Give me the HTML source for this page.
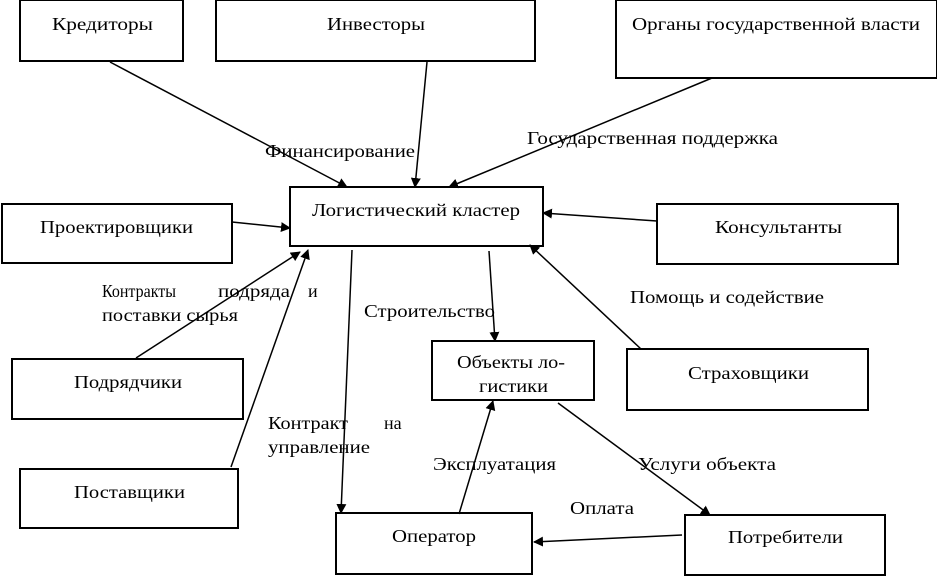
<!DOCTYPE html>
<html><head><meta charset="utf-8"><style>
body{margin:0;background:#fff;}
svg{display:block;font-family:"Liberation Serif",serif;font-size:18px;}
rect{fill:#fff;stroke:#000;stroke-width:2;}
line{stroke:#000;stroke-width:1.5;}
</style></head><body>
<svg width="937" height="576" viewBox="0 0 937 576">
<defs><marker id="a" markerWidth="10" markerHeight="10" refX="9" refY="5" orient="auto" markerUnits="userSpaceOnUse"><path d="M0,0 L10,5 L0,10 z" fill="#000"/></marker></defs>
<rect x="20" y="0" width="163" height="61"/>
<rect x="216" y="0" width="319" height="61"/>
<rect x="616" y="0" width="321" height="78"/>
<rect x="290" y="187" width="253" height="59"/>
<rect x="2" y="204" width="230" height="59"/>
<rect x="657" y="204" width="241" height="60"/>
<rect x="12" y="359" width="231" height="60"/>
<rect x="432" y="341" width="162" height="59"/>
<rect x="627" y="349" width="241" height="61"/>
<rect x="20" y="469" width="218" height="59"/>
<rect x="336" y="513" width="196" height="61"/>
<rect x="685" y="515" width="200" height="60"/>
<g lengthAdjust="spacingAndGlyphs">
<text x="52" y="30" textLength="101" lengthAdjust="spacingAndGlyphs">Кредиторы</text>
<text x="327" y="30" textLength="98" lengthAdjust="spacingAndGlyphs">Инвесторы</text>
<text x="632" y="30" textLength="288" lengthAdjust="spacingAndGlyphs">Органы государственной власти</text>
<text x="312" y="216" textLength="208" lengthAdjust="spacingAndGlyphs">Логистический кластер</text>
<text x="40" y="233" textLength="153" lengthAdjust="spacingAndGlyphs">Проектировщики</text>
<text x="715" y="233" textLength="127" lengthAdjust="spacingAndGlyphs">Консультанты</text>
<text x="74" y="388" textLength="108" lengthAdjust="spacingAndGlyphs">Подрядчики</text>
<text x="457" y="368" textLength="108" lengthAdjust="spacingAndGlyphs">Объекты ло-</text>
<text x="479" y="392" textLength="69" lengthAdjust="spacingAndGlyphs">гистики</text>
<text x="688" y="379" textLength="121" lengthAdjust="spacingAndGlyphs">Страховщики</text>
<text x="74" y="498" textLength="111" lengthAdjust="spacingAndGlyphs">Поставщики</text>
<text x="392" y="542" textLength="84" lengthAdjust="spacingAndGlyphs">Оператор</text>
<text x="728" y="543" textLength="115" lengthAdjust="spacingAndGlyphs">Потребители</text>
<text x="265" y="157" textLength="150" lengthAdjust="spacingAndGlyphs">Финансирование</text>
<text x="527" y="144" textLength="251" lengthAdjust="spacingAndGlyphs">Государственная поддержка</text>
<text x="102" y="297" textLength="74" lengthAdjust="spacingAndGlyphs">Контракты</text><text x="218" y="297" textLength="72" lengthAdjust="spacingAndGlyphs">подряда</text><text x="308" y="297">и</text>
<text x="102" y="321" textLength="136" lengthAdjust="spacingAndGlyphs">поставки сырья</text>
<text x="364" y="317" textLength="131" lengthAdjust="spacingAndGlyphs">Строительство</text>
<text x="630" y="303" textLength="194" lengthAdjust="spacingAndGlyphs">Помощь и содействие</text>
<text x="268" y="429" textLength="80" lengthAdjust="spacingAndGlyphs">Контракт</text><text x="384" y="429">на</text>
<text x="268" y="453" textLength="102" lengthAdjust="spacingAndGlyphs">управление</text>
<text x="433" y="470" textLength="123" lengthAdjust="spacingAndGlyphs">Эксплуатация</text>
<text x="638" y="470" textLength="138" lengthAdjust="spacingAndGlyphs">Услуги объекта</text>
<text x="570" y="514" textLength="64" lengthAdjust="spacingAndGlyphs">Оплата</text>
</g>
<g marker-end="url(#a)">
<line x1="110" y1="62" x2="347" y2="187"/>
<line x1="427" y1="62" x2="415" y2="187"/>
<line x1="712" y1="78" x2="449" y2="187"/>
<line x1="232" y1="222" x2="290" y2="228"/>
<line x1="657" y1="221" x2="543" y2="213"/>
<line x1="136" y1="358" x2="300" y2="252"/>
<line x1="231" y1="467" x2="308" y2="250"/>
<line x1="352" y1="250" x2="341" y2="513"/>
<line x1="489" y1="251" x2="495" y2="341"/>
<line x1="641" y1="349" x2="530" y2="245"/>
<line x1="459" y1="514" x2="493" y2="401"/>
<line x1="558" y1="403" x2="710" y2="515"/>
<line x1="682" y1="535" x2="534" y2="542"/>
</g>
</svg>
</body></html>
